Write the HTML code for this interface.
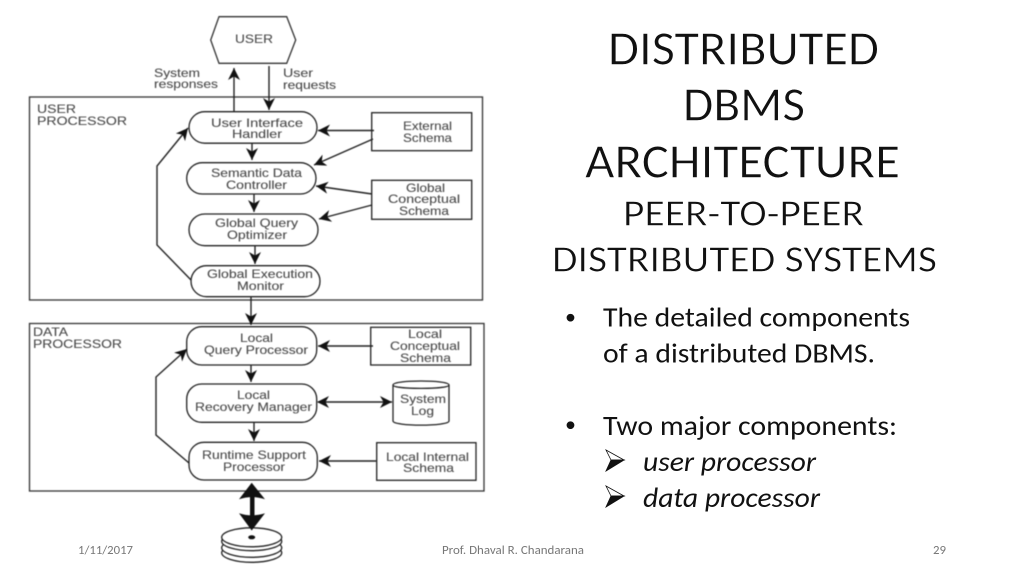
<!DOCTYPE html>
<html>
<head>
<meta charset="utf-8">
<style>
html,body{margin:0;padding:0;background:#fff;width:1024px;height:576px;overflow:hidden}
svg{display:block}
.d{font-family:"Liberation Sans",sans-serif;font-size:12px;fill:#4a4a4a;stroke:#4a4a4a;stroke-width:.1px}
.t{font-family:Carlito,Calibri,"Liberation Sans",sans-serif;fill:#111;stroke:#fff;stroke-width:.55px}
.b{font-family:Carlito,Calibri,"Liberation Sans",sans-serif;fill:#111;font-size:28px}
.f{font-family:Carlito,Calibri,"Liberation Sans",sans-serif;fill:#777;font-size:12.5px}
</style>
</head>
<body>
<svg width="1024" height="576" viewBox="0 0 1024 576" xmlns="http://www.w3.org/2000/svg">
<defs>
<marker id="a" markerWidth="14" markerHeight="14" refX="12" refY="6" orient="auto" markerUnits="userSpaceOnUse"><path d="M0 0L12 6L0 12L3.500 6Z" fill="#111"/></marker>
<marker id="s" markerWidth="14" markerHeight="14" refX="1" refY="6" orient="auto" markerUnits="userSpaceOnUse"><path d="M12 0L0 6L12 12L8.500 6Z" fill="#111"/></marker>
</defs>
<rect width="1024" height="576" fill="#fff"/>

<g style="filter:blur(.45px)">
<!-- Containers -->
<g fill="none" stroke="#333" stroke-width="1.300">
<rect x="29.500" y="97" width="453" height="203"/>
<rect x="29.500" y="323.500" width="454.500" height="167.500"/>
<polygon points="219,16.700 286.700,16.700 295.700,40 286.700,63.300 219,63.300 210.700,40"/>
</g>

<!-- Pills -->
<g fill="#fff" stroke="#222" stroke-width="1.300">
<rect x="189" y="111.700" width="128" height="31.500" rx="15.700"/>
<rect x="186.700" y="162.700" width="129.300" height="31.300" rx="15.600"/>
<rect x="189" y="214" width="129" height="31.700" rx="15.800"/>
<rect x="191" y="265.700" width="129" height="31" rx="15.500"/>
<rect x="186.700" y="326.700" width="130" height="38.300" rx="15"/>
<rect x="186.700" y="384" width="130" height="38.300" rx="15"/>
<rect x="189" y="442.300" width="128.300" height="37.700" rx="15"/>
</g>

<!-- Schema boxes -->
<g fill="#fff" stroke="#222" stroke-width="1.300">
<rect x="371.700" y="112.700" width="100" height="38"/>
<rect x="371.700" y="180.300" width="100" height="39"/>
<rect x="370.700" y="327.300" width="100" height="37.700"/>
<rect x="376.700" y="442.700" width="99.300" height="37.600"/>
<path d="M393 385C393 379.700 449 379.700 449 385V421C449 426.500 393 426.500 393 421Z"/>
<path d="M393 385C393 389.500 449 389.500 449 385" fill="none"/>
</g>

<!-- Connectors -->
<g fill="none" stroke="#222" stroke-width="1.400">
<path d="M234 111V68" marker-end="url(#a)"/>
<path d="M269 66V110" marker-end="url(#a)"/>
<path d="M252 143V160" marker-end="url(#a)"/>
<path d="M254 194V212" marker-end="url(#a)"/>
<path d="M255 246V264" marker-end="url(#a)"/>
<path d="M251 297V325" marker-end="url(#a)"/>
<path d="M374 130.500H318" marker-end="url(#a)"/>
<path d="M373 139L314 165" marker-end="url(#a)"/>
<path d="M372 194L316 186" marker-end="url(#a)"/>
<path d="M372 205L319 219" marker-end="url(#a)"/>
<path d="M191 280L157 245V166L188 128" marker-end="url(#a)"/>
<path d="M251 365V382" marker-end="url(#a)"/>
<path d="M254 423V441" marker-end="url(#a)"/>
<path d="M373 346H318" marker-end="url(#a)"/>
<path d="M318 402H392" marker-start="url(#s)" marker-end="url(#a)"/>
<path d="M376 461H319" marker-end="url(#a)"/>
<path d="M189 463L156 435V377L187 349" marker-end="url(#a)"/>
</g>

<!-- Disk stack -->
<g fill="#fff" stroke="#222" stroke-width="1.300">
<ellipse cx="251.700" cy="552.800" rx="30" ry="9.500"/>
<ellipse cx="251.700" cy="547.800" rx="30" ry="9.500"/>
<ellipse cx="251.700" cy="541.200" rx="30" ry="9.500"/>
<ellipse cx="251.700" cy="537.300" rx="30" ry="9.500"/>
</g>
<ellipse cx="251.700" cy="537.300" rx="3.500" ry="2" fill="#111"/>

<!-- Thick bidirectional arrow -->
<rect x="250" y="495" width="4.500" height="22" fill="#111"/>
<path d="M251.700 482.700L239 499.300Q252 495 265 499.300Z" fill="#111"/>
<path d="M251.700 530.500L239 513.300Q252 517.500 265 513.300Z" fill="#111"/>

<!-- Diagram labels -->
<text class="d" x="235" y="43" textLength="38" lengthAdjust="spacingAndGlyphs">USER</text>
<text class="d" x="154" y="77" textLength="46" lengthAdjust="spacingAndGlyphs">System</text>
<text class="d" x="154" y="88" textLength="64" lengthAdjust="spacingAndGlyphs">responses</text>
<text class="d" x="283" y="77" textLength="30" lengthAdjust="spacingAndGlyphs">User</text>
<text class="d" x="283" y="89" textLength="53" lengthAdjust="spacingAndGlyphs">requests</text>
<text class="d" x="37" y="113" textLength="39" lengthAdjust="spacingAndGlyphs">USER</text>
<text class="d" x="37" y="125" textLength="90" lengthAdjust="spacingAndGlyphs">PROCESSOR</text>
<text class="d" x="211" y="127" textLength="92" lengthAdjust="spacingAndGlyphs">User  Interface</text>
<text class="d" x="232" y="138" textLength="50" lengthAdjust="spacingAndGlyphs">Handler</text>
<text class="d" x="211" y="177" textLength="91" lengthAdjust="spacingAndGlyphs">Semantic Data</text>
<text class="d" x="226" y="189" textLength="61" lengthAdjust="spacingAndGlyphs">Controller</text>
<text class="d" x="215" y="227" textLength="83" lengthAdjust="spacingAndGlyphs">Global Query</text>
<text class="d" x="227" y="239" textLength="60" lengthAdjust="spacingAndGlyphs">Optimizer</text>
<text class="d" x="207" y="278" textLength="106" lengthAdjust="spacingAndGlyphs">Global Execution</text>
<text class="d" x="237" y="290" textLength="47" lengthAdjust="spacingAndGlyphs">Monitor</text>
<text class="d" x="403" y="130" textLength="49" lengthAdjust="spacingAndGlyphs">External</text>
<text class="d" x="403" y="142" textLength="49" lengthAdjust="spacingAndGlyphs">Schema</text>
<text class="d" x="406" y="192" textLength="39" lengthAdjust="spacingAndGlyphs">Global</text>
<text class="d" x="388" y="203" textLength="72" lengthAdjust="spacingAndGlyphs">Conceptual</text>
<text class="d" x="399" y="215" textLength="50" lengthAdjust="spacingAndGlyphs">Schema</text>
<text class="d" x="33" y="336" textLength="35" lengthAdjust="spacingAndGlyphs">DATA</text>
<text class="d" x="33" y="348" textLength="89" lengthAdjust="spacingAndGlyphs">PROCESSOR</text>
<text class="d" x="240" y="342" textLength="33" lengthAdjust="spacingAndGlyphs">Local</text>
<text class="d" x="204" y="354" textLength="104" lengthAdjust="spacingAndGlyphs">Query Processor</text>
<text class="d" x="237" y="399" textLength="33" lengthAdjust="spacingAndGlyphs">Local</text>
<text class="d" x="195" y="411" textLength="117" lengthAdjust="spacingAndGlyphs">Recovery Manager</text>
<text class="d" x="202" y="459" textLength="104" lengthAdjust="spacingAndGlyphs">Runtime Support</text>
<text class="d" x="223" y="471" textLength="62" lengthAdjust="spacingAndGlyphs">Processor</text>
<text class="d" x="408" y="338" textLength="34" lengthAdjust="spacingAndGlyphs">Local</text>
<text class="d" x="390" y="350" textLength="70" lengthAdjust="spacingAndGlyphs">Conceptual</text>
<text class="d" x="400" y="362" textLength="51" lengthAdjust="spacingAndGlyphs">Schema</text>
<text class="d" x="400" y="403" textLength="46" lengthAdjust="spacingAndGlyphs">System</text>
<text class="d" x="411" y="415" textLength="23" lengthAdjust="spacingAndGlyphs">Log</text>
<text class="d" x="386" y="461" textLength="83" lengthAdjust="spacingAndGlyphs">Local Internal</text>
<text class="d" x="403" y="472" textLength="51" lengthAdjust="spacingAndGlyphs">Schema</text>
</g>

<!-- Title -->
<text class="t" x="608" y="64.700" font-size="48" textLength="271" lengthAdjust="spacingAndGlyphs">DISTRIBUTED</text>
<text class="t" x="683" y="120.700" font-size="48" textLength="122" lengthAdjust="spacingAndGlyphs">DBMS</text>
<text class="t" x="585" y="177.700" font-size="48" textLength="315" lengthAdjust="spacingAndGlyphs">ARCHITECTURE</text>
<text class="t" x="623" y="225.700" font-size="37" textLength="241" lengthAdjust="spacingAndGlyphs">PEER-TO-PEER</text>
<text class="t" x="552" y="271.700" font-size="37" textLength="385" lengthAdjust="spacingAndGlyphs">DISTRIBUTED SYSTEMS</text>

<!-- Bullets -->
<text class="b" x="565" y="324" style="font-size:22px">•</text>
<text class="b" x="603" y="326.700" textLength="307" lengthAdjust="spacingAndGlyphs">The detailed components</text>
<text class="b" x="603" y="362.300" textLength="272" lengthAdjust="spacingAndGlyphs">of a distributed DBMS.</text>
<text class="b" x="565" y="431.600" style="font-size:22px">•</text>
<text class="b" x="603" y="435" textLength="294" lengthAdjust="spacingAndGlyphs">Two major components:</text>
<path d="M606 450L624 460L611 460Z" fill="#fff" stroke="#111" stroke-width=".8"/>
<path d="M606 471L624 460L611 460Z" fill="#111" stroke="#111" stroke-width=".8"/>
<path d="M606 486L624 496L611 496Z" fill="#fff" stroke="#111" stroke-width=".8"/>
<path d="M606 507L624 496L611 496Z" fill="#111" stroke="#111" stroke-width=".8"/>
<text class="b" x="643" y="471" font-style="italic" textLength="173" lengthAdjust="spacingAndGlyphs">user processor</text>
<text class="b" x="643" y="507" font-style="italic" textLength="177" lengthAdjust="spacingAndGlyphs">data processor</text>

<!-- Footer -->
<text class="f" x="78" y="554" textLength="55" lengthAdjust="spacingAndGlyphs">1/11/2017</text>
<text class="f" x="442" y="554" textLength="142" lengthAdjust="spacingAndGlyphs">Prof. Dhaval R. Chandarana</text>
<text class="f" x="933" y="554" textLength="13" lengthAdjust="spacingAndGlyphs">29</text>
</svg>
</body>
</html>
